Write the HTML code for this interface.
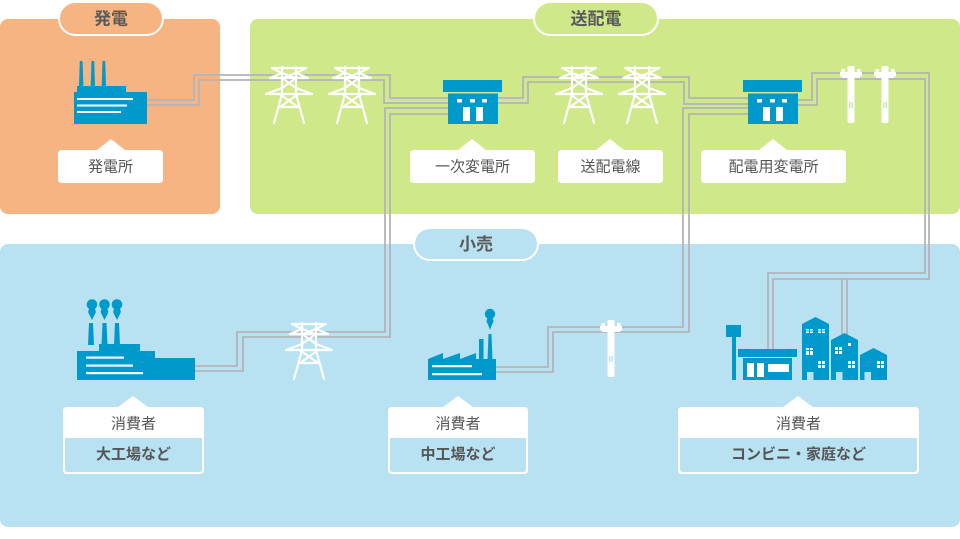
<!DOCTYPE html>
<html><head><meta charset="utf-8">
<style>
html,body{margin:0;padding:0;background:#fff;}
svg{display:block;}
text{font-family:"Liberation Sans","Noto Sans CJK JP",sans-serif;}
</style></head><body>
<svg width="960" height="539" viewBox="0 0 960 539" xmlns="http://www.w3.org/2000/svg">
<defs>
<g id="tower" fill="none" stroke="#fff" stroke-width="2.2" stroke-linecap="round" stroke-linejoin="round">
  <path d="M17,1 V28 M31,1 V28"/>
  <path d="M7,2 H41 M7,2 L17,7 M41,2 L31,7"/>
  <path d="M5,12 H43 M5,12 L17,7 M43,12 L31,7"/>
  <path d="M17,7 L31,12 M31,7 L17,12 M17,12 L31,22 M31,12 L17,22"/>
  <path d="M1,28 H47 M1,28 L17,22 M47,28 L31,22"/>
  <path d="M17,28 L9,57 M31,28 L39,57"/>
  <path d="M16,29 L33,41 M32,29 L15,41 M14,41 H34"/>
</g>
<g id="pole">
  <rect x="7.5" y="0" width="7" height="57" rx="1.5" fill="#fff"/>
  <rect x="0" y="6" width="22" height="4.5" fill="#fff"/>
  <rect x="1.5" y="3" width="3.5" height="4" fill="#fff"/>
  <rect x="17" y="3" width="3.5" height="4" fill="#fff"/>
  <rect x="2" y="10" width="18" height="2" fill="#fff"/>
</g>
</defs>

<!-- panels -->
<rect x="0" y="19" width="220" height="195" rx="8" fill="#f5b482"/>
<rect x="250" y="19" width="710" height="195" rx="8" fill="#cfe88a"/>
<rect x="0" y="244" width="960" height="283" rx="8" fill="#b8e2f2"/>

<!-- tabs -->
<rect x="59" y="2" width="104" height="33" rx="16.5" fill="#f5b482" stroke="#fff" stroke-width="2"/>
<text x="111" y="24.5" font-size="17" font-weight="bold" fill="#5a5a5a" text-anchor="middle">発電</text>
<rect x="534" y="2" width="124" height="33" rx="16.5" fill="#cfe88a" stroke="#fff" stroke-width="2"/>
<text x="596" y="24.5" font-size="17" font-weight="bold" fill="#5a5a5a" text-anchor="middle">送配電</text>
<rect x="414" y="228" width="124" height="32" rx="16" fill="#b8e2f2" stroke="#fff" stroke-width="2"/>
<text x="476" y="250" font-size="17" font-weight="bold" fill="#5a5a5a" text-anchor="middle">小売</text>

<!-- wires -->
<g fill="none" stroke="#b4b4b8" stroke-width="1.8">
  <polyline points="147,100 194,100 194,75 390,75 390,98 448,98"/>
  <polyline points="147,105 199,105 199,80 384,80 384,103 448,103"/>
  <polyline points="448,108 385,108 385,332 237,332 237,366 195,366"/>
  <polyline points="448,114 390,114 390,337 243,337 243,371 195,371"/>
  <polyline points="498,98 523,98 523,77 689,77 689,98 748,98"/>
  <polyline points="498,103 528,103 528,82 684,82 684,104 748,104"/>
  <polyline points="748,108 683,108 683,327 548,327 548,367 496,367"/>
  <polyline points="748,114 689,114 689,332 553,332 553,372 496,372"/>
  <polyline points="798,100 812,100 812,73 929,73 929,279 773,279 773,349"/>
  <polyline points="798,105 817,105 817,79 925,79 925,273 768,273 768,349"/>
  <polyline points="842,279 842,336"/>
  <polyline points="847,279 847,337"/>
</g>

<!-- power plant -->
<g fill="#0099cc">
  <polygon points="79,86 79.8,61 82.6,61 83.4,86"/>
  <polygon points="90.7,86 91.5,61 94.2,61 95,86"/>
  <polygon points="101.7,86 102.5,61 105.2,61 106,86"/>
  <rect x="77" y="86" width="49" height="7"/>
  <rect x="74" y="92" width="73" height="32"/>
</g>
<g fill="#fff">
  <rect x="77" y="98" width="56" height="2"/>
  <rect x="77" y="104.5" width="50" height="2"/>
  <rect x="77" y="111" width="44" height="2"/>
</g>

<!-- towers -->
<use href="#tower" x="265" y="66"/>
<use href="#tower" x="328" y="66"/>
<use href="#tower" x="555" y="66"/>
<use href="#tower" x="618" y="66"/>
<use href="#tower" x="285" y="322"/>

<!-- poles -->
<use href="#pole" x="840" y="66"/>
<use href="#pole" x="874" y="66"/>
<use href="#pole" x="600" y="320"/>
<g stroke="#bcdc8c" stroke-width="0.7">
  <path d="M849.5,102 V108 M851,102 V108 M852.5,102 V108"/>
  <path d="M883.5,102 V108 M885,102 V108 M886.5,102 V108"/>
</g>
<g stroke="#a9d6ea" stroke-width="0.7">
  <path d="M609.5,356 V362 M611,356 V362 M612.5,356 V362"/>
</g>

<!-- substations -->
<g fill="#0099cc">
  <rect x="443" y="80" width="59" height="12"/>
  <rect x="448" y="93.5" width="50" height="30.5"/>
  <rect x="743" y="80" width="59" height="12"/>
  <rect x="748" y="93.5" width="50" height="30.5"/>
</g>
<g fill="#fff">
  <rect x="457" y="99" width="5" height="3.5"/><rect x="470" y="99" width="5" height="3.5"/><rect x="482" y="99" width="5" height="3.5"/>
  <rect x="463" y="107" width="7" height="14"/><rect x="476" y="107" width="7" height="14"/>
  <rect x="757" y="99" width="5" height="3.5"/><rect x="770" y="99" width="5" height="3.5"/><rect x="782" y="99" width="5" height="3.5"/>
  <rect x="763" y="107" width="7" height="14"/><rect x="776" y="107" width="7" height="14"/>
</g>

<!-- big factory -->
<g fill="#0099cc">
  <circle cx="92" cy="304.5" r="5.3"/><circle cx="92" cy="311.5" r="3.8"/><polygon points="88.5,313 95.5,313 92,320"/>
  <circle cx="104.5" cy="304.5" r="5.3"/><circle cx="104.5" cy="311.5" r="3.8"/><polygon points="101,313 108,313 104.5,320"/>
  <circle cx="117" cy="304.5" r="5.3"/><circle cx="117" cy="311.5" r="3.8"/><polygon points="113.5,313 120.5,313 117,320"/>
  <polygon points="88,345 89,323 93,323 94,345"/>
  <polygon points="101.5,345 102.5,323 106.5,323 107.5,345"/>
  <polygon points="114,345 115,323 119,323 120,345"/>
  <rect x="99" y="344" width="41" height="8"/>
  <rect x="77" y="351" width="78" height="8"/>
  <rect x="77" y="358" width="118" height="22"/>
</g>
<g fill="#fff">
  <rect x="86" y="356.5" width="38" height="2.2"/>
  <rect x="86" y="364.5" width="47" height="2.2"/>
  <rect x="86" y="372" width="57" height="2.2"/>
</g>

<!-- medium factory -->
<g fill="#0099cc">
  <circle cx="490" cy="314" r="5.2"/><circle cx="490" cy="321" r="3.5"/><polygon points="487,322 493,322 490,330"/>
  <rect x="479" y="339" width="4.5" height="21"/>
  <polygon points="487.5,360 488.5,334 491.5,334 492.5,360"/>
  <polygon points="428,359 443,353 443,359 460,353 460,359 476,353 476,359 496,359 496,380 428,380"/>
</g>
<g fill="#fff">
  <rect x="432" y="365" width="40" height="2.2"/>
  <rect x="432" y="373" width="50" height="2.2"/>
</g>

<!-- town -->
<g fill="#0099cc">
  <rect x="726" y="325" width="15" height="12"/>
  <rect x="732" y="337" width="4" height="43"/>
  <rect x="738" y="349" width="59" height="8"/>
  <rect x="743" y="358" width="49" height="22"/>
  <polygon points="802,324 815.5,317 829,324 829,380 802,380"/>
  <polygon points="831,340 844.5,333 858,340 858,380 831,380"/>
  <polygon points="860,355 873.5,348 887,355 887,380 860,380"/>
</g>
<g fill="#fff">
  <rect x="747" y="363" width="7" height="14"/><rect x="757" y="363" width="7" height="14"/>
  <rect x="768" y="364" width="21" height="8"/>
  <rect x="806" y="329" width="7" height="4"/><rect x="818" y="329" width="7" height="4"/>
  <rect x="806" y="348" width="7" height="7"/><rect x="818" y="361" width="7" height="7"/>
  <rect x="848" y="343" width="3" height="3"/>
  <rect x="835" y="347" width="7" height="7"/><rect x="848" y="361" width="7" height="7"/>
  <rect x="877" y="361" width="7" height="7"/>
</g>
<g stroke="#0099cc" stroke-width="1">
  <path d="M806,350.5 H813 M809.5,348 V355 M818,364.5 H825 M821.5,361 V368 M835,350.5 H842 M838.5,347 V354 M848,364.5 H855 M851.5,361 V368 M877,364.5 H884 M880.5,361 V368 M806,331 H813 M809.5,329 V333 M818,331 H825 M821.5,329 V333"/>
</g>
<g fill="#b8e2f2">
  <rect x="807" y="372" width="6.5" height="8"/>
  <rect x="836" y="372" width="6.5" height="8"/>
  <rect x="864.5" y="372" width="6.5" height="8"/>
</g>

<!-- top labels -->
<g fill="#fff">
  <path d="M62,150 H97 L111,139 L125,150 H159 Q163,150 163,154 V179 Q163,183 159,183 H62 Q58,183 58,179 V154 Q58,150 62,150 Z"/>
  <path d="M414,150 H458 L472,139 L486,150 H531 Q535,150 535,154 V179 Q535,183 531,183 H414 Q410,183 410,179 V154 Q410,150 414,150 Z"/>
  <path d="M562,150 H596 L610,139 L624,150 H659 Q663,150 663,154 V179 Q663,183 659,183 H562 Q558,183 558,179 V154 Q558,150 562,150 Z"/>
  <path d="M705,150 H759 L773,139 L787,150 H842 Q846,150 846,154 V179 Q846,183 842,183 H705 Q701,183 701,179 V154 Q701,150 705,150 Z"/>
</g>
<g font-size="15" fill="#555" text-anchor="middle">
  <text x="110.5" y="171.5">発電所</text>
  <text x="472.5" y="171.5">一次変電所</text>
  <text x="610.5" y="171.5">送配電線</text>
  <text x="773.5" y="171.5">配電用変電所</text>
</g>

<!-- consumer boxes -->
<g fill="#fff">
  <path d="M67,407 H118 L133,396 L148,407 H200 Q204,407 204,411 V470 Q204,474 200,474 H67 Q63,474 63,470 V411 Q63,407 67,407 Z"/>
  <path d="M392,407 H443 L458,396 L473,407 H524 Q528,407 528,411 V470 Q528,474 524,474 H392 Q388,474 388,470 V411 Q388,407 392,407 Z"/>
  <path d="M682,407 H783 L798,396 L813,407 H915 Q919,407 919,411 V470 Q919,474 915,474 H682 Q678,474 678,470 V411 Q678,407 682,407 Z"/>
</g>
<g fill="#b8e2f2">
  <path d="M65,438 H202 V469 Q202,472 199,472 H68 Q65,472 65,469 Z"/>
  <path d="M390,438 H526 V469 Q526,472 523,472 H393 Q390,472 390,469 Z"/>
  <path d="M680,438 H917 V469 Q917,472 914,472 H683 Q680,472 680,469 Z"/>
</g>
<g font-size="15" fill="#555" text-anchor="middle">
  <text x="133.5" y="428.5">消費者</text>
  <text x="458" y="428.5">消費者</text>
  <text x="798.5" y="428.5">消費者</text>
</g>
<g font-size="15" font-weight="bold" fill="#555" text-anchor="middle">
  <text x="133.5" y="459">大工場など</text>
  <text x="458" y="459">中工場など</text>
  <text x="798.5" y="459">コンビニ・家庭など</text>
</g>
</svg>
</body></html>
